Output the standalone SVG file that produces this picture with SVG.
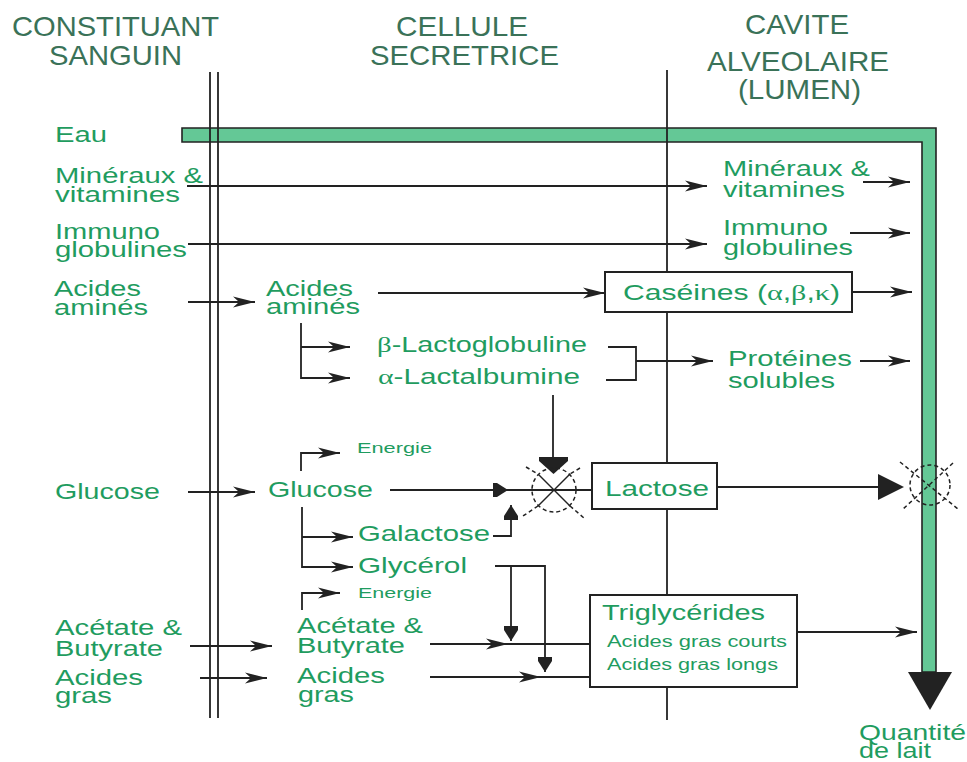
<svg xmlns="http://www.w3.org/2000/svg" width="967" height="762" viewBox="0 0 967 762">
<style>
.h{font-family:"Liberation Sans",Arial,sans-serif;font-size:28px;fill:#3a7258}
.t{font-family:"Liberation Sans",Arial,sans-serif;font-size:22px;fill:#1f9c5f}
.s{font-family:"Liberation Sans",Arial,sans-serif;font-size:15px;fill:#1f9c5f}
.m{font-family:"Liberation Sans",Arial,sans-serif;font-size:16px;fill:#1f9c5f}
.g{font-family:"Liberation Serif","Times New Roman",serif}
.ln{stroke:#222;stroke-width:1.8;fill:none}
.bx{stroke:#222;stroke-width:2;fill:#fff}
.ds{stroke:#222;stroke-width:1.5;fill:none;stroke-dasharray:4 3}
.so{stroke:#222;stroke-width:1.5;fill:none}
.hd{fill:#222}
</style>
<defs>
<marker id="a" markerUnits="userSpaceOnUse" markerWidth="22" markerHeight="12" viewBox="0 0 22 12" refX="22" refY="6" orient="auto"><path d="M0,0.5 L22,6 L0,11.5 L6,6 Z" fill="#222"/></marker>
<marker id="tb" markerUnits="userSpaceOnUse" markerWidth="15" markerHeight="14" viewBox="0 0 15 14" refX="15" refY="7" orient="auto"><path d="M0,0 L4,0 L15,7 L4,14 L0,14 Z" fill="#222"/></marker>
</defs>
<rect width="967" height="762" fill="#fff"/>

<g id="headers">
<text class="h"><tspan x="12" y="36" textLength="207" lengthAdjust="spacingAndGlyphs">CONSTITUANT</tspan><tspan x="49" y="65" textLength="133" lengthAdjust="spacingAndGlyphs">SANGUIN</tspan></text>
<text class="h"><tspan x="396" y="36" textLength="132" lengthAdjust="spacingAndGlyphs">CELLULE</tspan><tspan x="370" y="65" textLength="189" lengthAdjust="spacingAndGlyphs">SECRETRICE</tspan></text>
<text class="h"><tspan x="745" y="34" textLength="104" lengthAdjust="spacingAndGlyphs">CAVITE</tspan><tspan x="707" y="71" textLength="182" lengthAdjust="spacingAndGlyphs">ALVEOLAIRE</tspan><tspan x="738" y="99" textLength="123" lengthAdjust="spacingAndGlyphs">(LUMEN)</tspan></text>
</g>

<g id="eau-flux">
<path d="M182,128 L936,128 L936,672 L922,672 L922,142 L182,142 Z" fill="#64c896" stroke="#222" stroke-width="1.6"/>
<path d="M908,672 L952,672 L930,710 Z" fill="#222"/>
</g>

<g id="membranes">
<line class="ln" x1="210" y1="72" x2="210" y2="718"/>
<line class="ln" x1="218" y1="72" x2="218" y2="718"/>
<line class="ln" x1="667" y1="70" x2="667" y2="720"/>
</g>

<g id="connectors">
<line class="ln" x1="187" y1="186" x2="707" y2="186" marker-end="url(#a)"/>
<line class="ln" x1="863" y1="182" x2="910" y2="182" marker-end="url(#a)"/>
<line class="ln" x1="188" y1="244" x2="707" y2="244" marker-end="url(#a)"/>
<line class="ln" x1="850" y1="233" x2="910" y2="233" marker-end="url(#a)"/>
<line class="ln" x1="188" y1="302" x2="255" y2="302" marker-end="url(#a)"/>
<line class="ln" x1="378" y1="293" x2="605" y2="293" marker-end="url(#a)"/>
<line class="ln" x1="853" y1="292" x2="912" y2="292" marker-end="url(#a)"/>
<path class="ln" d="M301,323 V378 H350" marker-end="url(#a)"/>
<line class="ln" x1="301" y1="347" x2="350" y2="347" marker-end="url(#a)"/>
<path class="ln" d="M608,347 H636 V380 H606"/>
<line class="ln" x1="636" y1="361" x2="713" y2="361" marker-end="url(#a)"/>
<line class="ln" x1="860" y1="361" x2="910" y2="361" marker-end="url(#a)"/>
<line class="ln" x1="553" y1="395" x2="553" y2="458"/>
<path class="hd" d="M539,457 H568 V461 L553.5,474 L539,461 Z"/>
<path class="ln" d="M301,471 V453 H340" marker-end="url(#a)"/>
<line class="ln" x1="188" y1="492" x2="255" y2="492" marker-end="url(#a)"/>
<line class="ln" x1="390" y1="490" x2="508" y2="490" marker-end="url(#tb)"/>
<line class="ln" x1="508" y1="490" x2="592" y2="490"/>
<path class="ln" d="M493,536 H511 V505" marker-end="url(#tb)"/>
<path class="ln" d="M302,507 V567 H353" marker-end="url(#a)"/>
<line class="ln" x1="302" y1="537" x2="353" y2="537" marker-end="url(#a)"/>
<line class="ln" x1="717" y1="487" x2="880" y2="487"/>
<path class="hd" d="M878,474 L904,487 L878,500 Z"/>
<path class="ln" d="M495,566 H545 V672" marker-end="url(#tb)"/>
<line class="ln" x1="511" y1="566" x2="511" y2="641" marker-end="url(#tb)"/>
<path class="ln" d="M302,610 V593 H340" marker-end="url(#a)"/>
<line class="ln" x1="190" y1="646" x2="272" y2="646" marker-end="url(#a)"/>
<line class="ln" x1="200" y1="678" x2="267" y2="678" marker-end="url(#a)"/>
<line class="ln" x1="430" y1="644" x2="508" y2="644" marker-end="url(#a)"/>
<line class="ln" x1="508" y1="644" x2="590" y2="644"/>
<line class="ln" x1="430" y1="677" x2="541" y2="677" marker-end="url(#a)"/>
<line class="ln" x1="541" y1="677" x2="590" y2="677"/>
<line class="ln" x1="797" y1="632" x2="917" y2="632" marker-end="url(#a)"/>
</g>

<g id="enzyme-1">
<circle class="ds" cx="554" cy="490" r="22"/>
<line class="so" x1="538" y1="474" x2="570" y2="506"/>
<line class="so" x1="570" y1="474" x2="538" y2="506"/>
<line class="ds" x1="526" y1="467" x2="538" y2="474"/>
<line class="ds" x1="570" y1="506" x2="584" y2="518"/>
<line class="ds" x1="580" y1="468" x2="570" y2="474"/>
<line class="ds" x1="538" y1="506" x2="523" y2="516"/>
</g>

<g id="enzyme-2">
<circle class="ds" cx="930" cy="485" r="20"/>
<line class="ds" x1="900" y1="462" x2="958" y2="509"/>
<line class="ds" x1="953" y1="463" x2="902" y2="510"/>
</g>

<g id="sang-eau"><text class="t" x="55" y="142" textLength="52" lengthAdjust="spacingAndGlyphs">Eau</text></g>
<g id="sang-mineraux"><text class="t"><tspan x="55" y="183" textLength="148" lengthAdjust="spacingAndGlyphs">Minéraux &amp;</tspan><tspan x="55" y="202" textLength="125" lengthAdjust="spacingAndGlyphs">vitamines</tspan></text></g>
<g id="sang-immuno"><text class="t"><tspan x="55" y="239" textLength="105" lengthAdjust="spacingAndGlyphs">Immuno</tspan><tspan x="55" y="257" textLength="132" lengthAdjust="spacingAndGlyphs">globulines</tspan></text></g>
<g id="sang-aa"><text class="t"><tspan x="54" y="296" textLength="87" lengthAdjust="spacingAndGlyphs">Acides</tspan><tspan x="54" y="315" textLength="94" lengthAdjust="spacingAndGlyphs">aminés</tspan></text></g>
<g id="sang-glucose"><text class="t" x="55" y="499" textLength="105" lengthAdjust="spacingAndGlyphs">Glucose</text></g>
<g id="sang-acetate"><text class="t"><tspan x="55" y="635" textLength="127" lengthAdjust="spacingAndGlyphs">Acétate &amp;</tspan><tspan x="55" y="656" textLength="108" lengthAdjust="spacingAndGlyphs">Butyrate</tspan></text></g>
<g id="sang-ag"><text class="t"><tspan x="55" y="685" textLength="88" lengthAdjust="spacingAndGlyphs">Acides</tspan><tspan x="55" y="703" textLength="57" lengthAdjust="spacingAndGlyphs">gras</tspan></text></g>

<g id="cell-aa"><text class="t"><tspan x="266" y="296" textLength="87" lengthAdjust="spacingAndGlyphs">Acides</tspan><tspan x="266" y="314" textLength="94" lengthAdjust="spacingAndGlyphs">aminés</tspan></text></g>
<g id="cell-blg"><text class="t" x="377" y="352" textLength="210" lengthAdjust="spacingAndGlyphs"><tspan class="g">β</tspan>-Lactoglobuline</text></g>
<g id="cell-ala"><text class="t" x="378" y="384" textLength="202" lengthAdjust="spacingAndGlyphs"><tspan class="g">α</tspan>-Lactalbumine</text></g>
<g id="cell-energie1"><text class="s" x="357" y="453" textLength="75" lengthAdjust="spacingAndGlyphs">Energie</text></g>
<g id="cell-glucose"><text class="t" x="268" y="497" textLength="105" lengthAdjust="spacingAndGlyphs">Glucose</text></g>
<g id="cell-galactose"><text class="t" x="358" y="541" textLength="132" lengthAdjust="spacingAndGlyphs">Galactose</text></g>
<g id="cell-glycerol"><text class="t" x="358" y="573" textLength="109" lengthAdjust="spacingAndGlyphs">Glycérol</text></g>
<g id="cell-energie2"><text class="s" x="358" y="598" textLength="74" lengthAdjust="spacingAndGlyphs">Energie</text></g>
<g id="cell-acetate"><text class="t"><tspan x="297" y="633" textLength="126" lengthAdjust="spacingAndGlyphs">Acétate &amp;</tspan><tspan x="297" y="653" textLength="108" lengthAdjust="spacingAndGlyphs">Butyrate</tspan></text></g>
<g id="cell-ag"><text class="t"><tspan x="297" y="683" textLength="88" lengthAdjust="spacingAndGlyphs">Acides</tspan><tspan x="298" y="702" textLength="56" lengthAdjust="spacingAndGlyphs">gras</tspan></text></g>

<g id="caseines"><rect class="bx" x="605" y="272" width="247" height="40"/><text class="t" x="623" y="300" textLength="217" lengthAdjust="spacingAndGlyphs">Caséines (<tspan class="g">α</tspan>,<tspan class="g">β</tspan>,<tspan class="g">κ</tspan>)</text></g>
<g id="lactose"><rect class="bx" x="592" y="463" width="125" height="46"/><text class="t" x="605" y="496" textLength="104" lengthAdjust="spacingAndGlyphs">Lactose</text></g>
<g id="triglycerides"><rect class="bx" x="590" y="595" width="207" height="92"/><text class="t" x="602" y="620" textLength="163" lengthAdjust="spacingAndGlyphs">Triglycérides</text><text class="m"><tspan x="607" y="647" textLength="180" lengthAdjust="spacingAndGlyphs">Acides gras courts</tspan><tspan x="607" y="670" textLength="171" lengthAdjust="spacingAndGlyphs">Acides gras longs</tspan></text></g>

<g id="lumen-mineraux"><text class="t"><tspan x="723" y="176" textLength="147" lengthAdjust="spacingAndGlyphs">Minéraux &amp;</tspan><tspan x="723" y="197" textLength="122" lengthAdjust="spacingAndGlyphs">vitamines</tspan></text></g>
<g id="lumen-immuno"><text class="t"><tspan x="723" y="235" textLength="105" lengthAdjust="spacingAndGlyphs">Immuno</tspan><tspan x="723" y="255" textLength="130" lengthAdjust="spacingAndGlyphs">globulines</tspan></text></g>
<g id="lumen-proteines"><text class="t"><tspan x="728" y="366" textLength="124" lengthAdjust="spacingAndGlyphs">Protéines</tspan><tspan x="728" y="388" textLength="107" lengthAdjust="spacingAndGlyphs">solubles</tspan></text></g>
<g id="quantite"><text class="t"><tspan x="859" y="740" textLength="107" lengthAdjust="spacingAndGlyphs">Quantité</tspan><tspan x="859" y="758" textLength="72" lengthAdjust="spacingAndGlyphs">de lait</tspan></text></g>
</svg>
